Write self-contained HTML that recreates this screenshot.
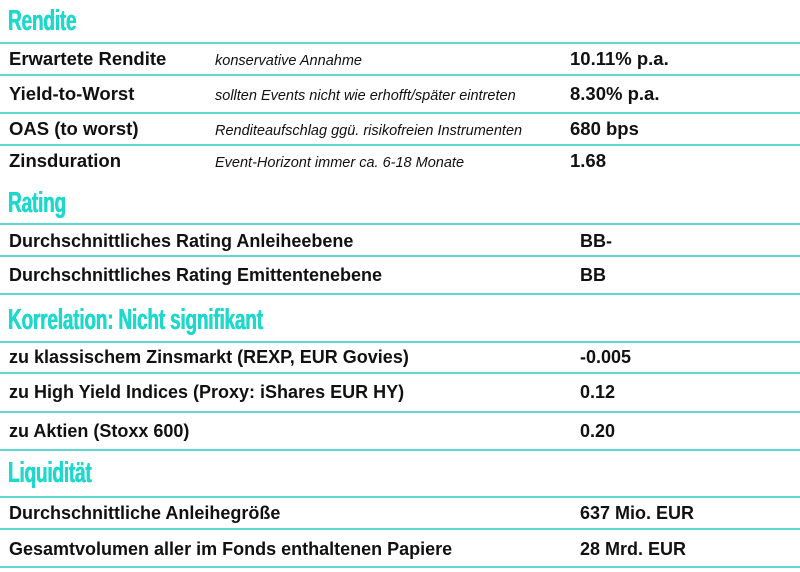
<!DOCTYPE html>
<html><head><meta charset="utf-8"><style>
body{margin:0;width:800px;height:572px;background:#fff;position:relative;overflow:hidden;font-family:"Liberation Sans",sans-serif;color:#111}
.h{position:absolute;left:8px;color:#1ed8cb;font-weight:bold;font-size:29px;transform:scaleX(0.655);transform-origin:left center;line-height:30px;letter-spacing:-0.3px;text-shadow:0.6px 0 0 #1ed8cb,-0.3px 0 0 #1ed8cb}
.l{position:absolute;left:0;width:800px;height:2px;background:#5fd9d3}
.t{position:absolute;line-height:22px;white-space:nowrap}
.b{font-weight:bold;font-size:18.5px;left:9px}
.s{font-weight:bold;font-size:18px;left:9px}
.i{font-style:italic;font-size:14.5px;left:215px;margin-top:2px}
.v{font-weight:bold;font-size:18.5px}
.w{font-weight:bold;font-size:18px;left:580px}
</style></head><body>
<div class="h" style="top:6px">Rendite</div>
<div class="l" style="top:42px"></div>
<div class="t b" style="top:48px">Erwartete Rendite</div>
<div class="t i" style="top:48px">konservative Annahme</div>
<div class="t v" style="top:48px;left:570px">10.11% p.a.</div>
<div class="l" style="top:74px"></div>
<div class="t b" style="top:83px">Yield-to-Worst</div>
<div class="t i" style="top:83px">sollten Events nicht wie erhofft/später eintreten</div>
<div class="t v" style="top:83px;left:570px">8.30% p.a.</div>
<div class="l" style="top:112px"></div>
<div class="t b" style="top:118px">OAS (to worst)</div>
<div class="t i" style="top:118px">Renditeaufschlag ggü. risikofreien Instrumenten</div>
<div class="t v" style="top:118px;left:570px">680 bps</div>
<div class="l" style="top:144px"></div>
<div class="t b" style="top:150px">Zinsduration</div>
<div class="t i" style="top:150px">Event-Horizont immer ca. 6-18 Monate</div>
<div class="t v" style="top:150px;left:570px">1.68</div>

<div class="h" style="top:188px">Rating</div>
<div class="l" style="top:223px"></div>
<div class="t s" style="top:230px">Durchschnittliches Rating Anleiheebene</div>
<div class="t w" style="top:230px">BB-</div>
<div class="l" style="top:255px"></div>
<div class="t s" style="top:264px">Durchschnittliches Rating Emittentenebene</div>
<div class="t w" style="top:264px">BB</div>
<div class="l" style="top:293px"></div>

<div class="h" style="top:305px">Korrelation: Nicht signifikant</div>
<div class="l" style="top:341px"></div>
<div class="t s" style="top:346px">zu klassischem Zinsmarkt (REXP, EUR Govies)</div>
<div class="t w" style="top:346px">-0.005</div>
<div class="l" style="top:372px"></div>
<div class="t s" style="top:381px">zu High Yield Indices (Proxy: iShares EUR HY)</div>
<div class="t w" style="top:381px">0.12</div>
<div class="l" style="top:411px"></div>
<div class="t s" style="top:420px">zu Aktien (Stoxx 600)</div>
<div class="t w" style="top:420px">0.20</div>
<div class="l" style="top:449px"></div>

<div class="h" style="top:458px">Liquidität</div>
<div class="l" style="top:496px"></div>
<div class="t s" style="top:502px">Durchschnittliche Anleihegröße</div>
<div class="t w" style="top:502px">637 Mio. EUR</div>
<div class="l" style="top:528px"></div>
<div class="t s" style="top:538px">Gesamtvolumen aller im Fonds enthaltenen Papiere</div>
<div class="t w" style="top:538px">28 Mrd. EUR</div>
<div class="l" style="top:566px"></div>
</body></html>
